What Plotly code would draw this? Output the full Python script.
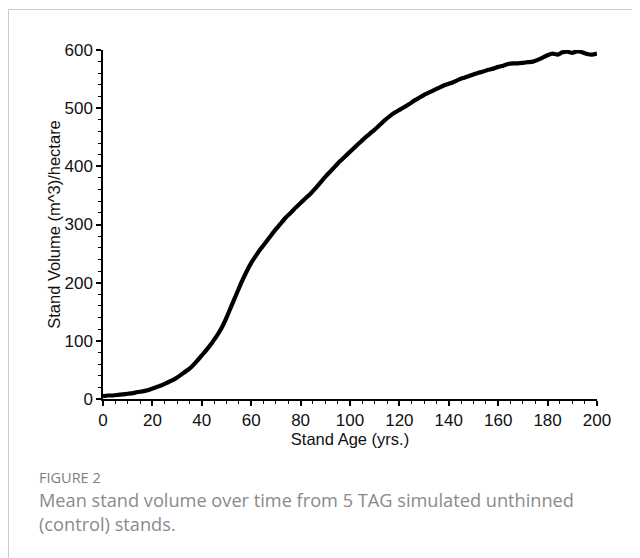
import plotly.graph_objects as go

# Stand age (years) and mean stand volume (m^3/ha)
age = list(range(0, 201, 2))
volume = [
    5, 6, 6, 7, 8, 9, 10, 12, 13, 15,
    18, 21, 24, 28, 32, 37, 43, 49, 56, 65,
    75, 85, 96, 108, 122, 140, 160, 180, 200, 218,
    234, 247, 259, 270, 281, 292, 302, 312, 320, 329,
    337, 345, 353, 362, 372, 382, 391, 400, 409, 417,
    425, 433, 441, 449, 456, 463, 471, 479, 486, 492,
    497, 502, 507, 513, 518, 523, 527, 531, 535, 539,
    542, 545, 549, 552, 555, 558, 561, 563, 566, 568,
    571, 573, 576, 577, 577, 578, 579, 580, 583, 587,
    591, 594, 592, 596, 597, 595, 598, 596, 593, 592,
    594,
]

x_ticks = list(range(0, 201, 20))
y_ticks = list(range(0, 601, 100))

x_title = "Stand Age (yrs.)"
y_title = "Stand Volume (m^3)/hectare"
fig_label = "FIGURE 2"
caption_lines = [
    "Mean stand volume over time from 5 TAG simulated unthinned",
    "(control) stands.",
]

# Page is 640x558; the page body adds an 8px offset, so the figure is 8px smaller
PAGE_W, PAGE_H = 640, 558
OFF = 8
W, H = PAGE_W - OFF, PAGE_H - OFF
# plot area in page pixels: x 103..597, y 50..399
PL, PR, PT, PB = 103, 597, 50, 399
L, T = PL - OFF, PT - OFF
R, B = W - (PR - OFF), H - (PB - OFF)
PW, PH = PR - PL, PB - PT


def px(x):
    return (x - PL) / PW


def py(y):
    return (PB - y) / PH


fig = go.Figure()
fig.add_trace(go.Scatter(
    x=age, y=volume, mode="lines",
    line=dict(color="black", width=4.2, shape="spline", smoothing=0.4),
    hoverinfo="skip", showlegend=False,
))

tick_font = dict(family="Liberation Sans, Arial, sans-serif", size=17, color="#111")
title_font = dict(family="Liberation Sans, Arial, sans-serif", size=16.5, color="#111")

fig.update_xaxes(
    range=[0, 200], tickvals=x_ticks, ticktext=[str(v) for v in x_ticks],
    showgrid=False, zeroline=False, showline=True, linecolor="black", linewidth=1.5,
    ticks="outside", ticklen=5, tickwidth=1.5, tickcolor="black",
    minor=dict(dtick=5, ticks="outside", ticklen=3, tickwidth=1, tickcolor="black", showgrid=False),
    tickfont=tick_font,
    title=dict(text=x_title, font=title_font, standoff=1),
)
fig.update_yaxes(
    range=[0, 600], tickvals=y_ticks, ticktext=[str(v) for v in y_ticks],
    showgrid=False, zeroline=False, showline=True, linecolor="black", linewidth=1.5,
    ticks="outside", ticklen=5, tickwidth=1.5, tickcolor="black",
    minor=dict(dtick=20, ticks="outside", ticklen=3, tickwidth=1, tickcolor="black", showgrid=False),
    tickfont=tick_font,
    title=dict(text=y_title, font=title_font, standoff=0),
)

# Frame lines (top and left)
fig.add_shape(type="line", xref="paper", yref="paper",
              x0=px(8), y0=py(9.5), x1=px(640), y1=py(9.5),
              line=dict(color="#cccccc", width=1))
fig.add_shape(type="line", xref="paper", yref="paper",
              x0=px(8.5), y0=py(9.5), x1=px(8.5), y1=py(558),
              line=dict(color="#cccccc", width=1))

cap_font = "Open Sans, Lato, sans-serif"
fig.add_annotation(xref="paper", yref="paper", x=px(37), y=py(477),
                   xanchor="left", yanchor="middle", showarrow=False,
                   text=fig_label,
                   font=dict(family=cap_font, size=14.5, color="#808080"))
for i, line in enumerate(caption_lines):
    fig.add_annotation(xref="paper", yref="paper", x=px(37), y=py(500 + 24 * i),
                       xanchor="left", yanchor="middle", showarrow=False,
                       text=line,
                       font=dict(family=cap_font, size=18.2, color="#8a8a8a"))

fig.update_layout(
    width=W, height=H,
    margin=dict(l=L, r=R, t=T, b=B, autoexpand=False),
    paper_bgcolor="white", plot_bgcolor="white",
    showlegend=False,
)

fig.write_html("out.html")
